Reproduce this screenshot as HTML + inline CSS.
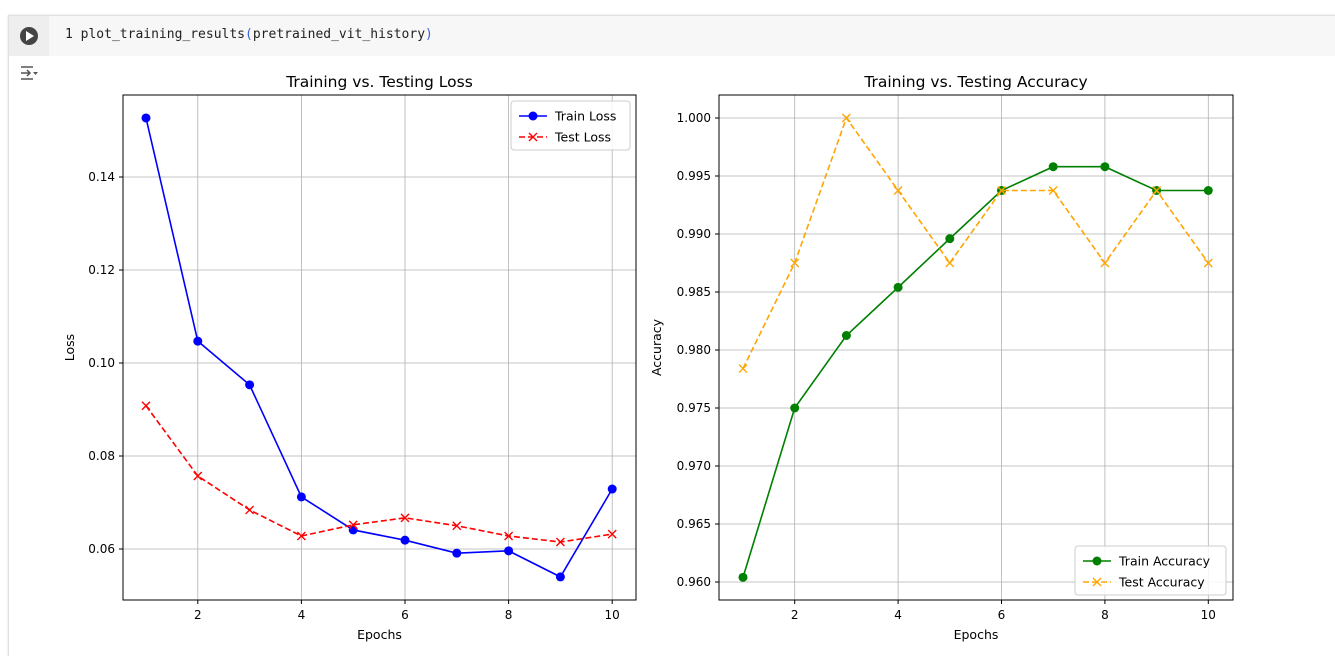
<!DOCTYPE html>
<html><head><meta charset="utf-8"><style>
body{margin:0;background:#fff;width:1335px;height:648px;overflow:hidden;font-family:"DejaVu Sans","Liberation Sans",sans-serif;}
#cell{position:absolute;left:8px;top:15px;width:1340px;height:640px;border-left:1px solid #e0e0e0;border-top:1px solid #e0e0e0;box-shadow:0 0 2px #ddd}
#hdr{position:absolute;left:0;top:0;width:1340px;height:40px;background:#f7f7f7}
#run{position:absolute;left:0;top:0;width:40px;height:40px;background:#eeeeee}
#code{position:absolute;left:56px;top:11px;font-family:"DejaVu Sans Mono","Liberation Mono",monospace;font-size:13px;color:#222}
</style></head><body>
<div id="cell">
<div id="hdr">
<div id="run"><svg width="40" height="40"><circle cx="20" cy="20" r="9" fill="#444"/><path d="M17 15 L25 20 L17 25 Z" fill="#fff"/></svg></div>
<div id="code">1 plot_training_results<span style="color:#3366dd">(</span>pretrained_vit_history<span style="color:#3366dd">)</span></div>
</div>
<svg style="position:absolute;left:10px;top:48px" width="20" height="18"><g stroke="#555" stroke-width="1.5" fill="none"><path d="M2 3h12M2 15h12M2 9h9M8 6l3 3-3 3"/></g><path d="M14 8h5l-2.5 3z" fill="#555"/></svg>
</div>
<svg id="chart" width="1335" height="648" style="position:absolute;left:0;top:0" font-family="DejaVu Sans, Liberation Sans, sans-serif"></svg>
<script>
const epochs=[1,2,3,4,5,6,7,8,9,10];
const trainLoss=[0.1527,0.1047,0.0953,0.0712,0.0641,0.0619,0.0591,0.0596,0.0540,0.0729];
const testLoss=[0.0908,0.0757,0.0684,0.0628,0.0652,0.0667,0.0650,0.0628,0.0615,0.0632];
const trainAcc=[0.9604,0.9750,0.98125,0.9854,0.9896,0.99375,0.9958,0.9958,0.99375,0.99375];
const testAcc=[0.9784,0.9875,1.0,0.99375,0.9875,0.99375,0.99375,0.9875,0.99375,0.9875];
const xTicks=[2,4,6,8,10];
const lossTicks=[0.06,0.08,0.10,0.12,0.14];
const accTicks=[0.960,0.965,0.970,0.975,0.980,0.985,0.990,0.995,1.000];
const svg=document.getElementById('chart');
const NS='http://www.w3.org/2000/svg';
function mk(tag,attrs,parent){const e=document.createElementNS(NS,tag);for(const k in attrs)e.setAttribute(k,attrs[k]);(parent||svg).appendChild(e);return e;}
function txt(s,attrs,parent){const e=mk('text',attrs,parent);e.textContent=s;return e;}
function panel(cfg){
  const g=mk('g',{});
  
  
  const {x0,x1,y0,y1}=cfg;
  const sx=v=>cfg.px1+(v-1)*cfg.pxStep;
  const sy=v=>cfg.ya+(v-cfg.va)*(cfg.yb-cfg.ya)/(cfg.vb-cfg.va);
  xTicks.forEach(t=>{const x=sx(t);
    const l=mk('line',{x1:x,x2:x,y1:y0,y2:y1,stroke:'#b0b0b0','stroke-width':0.8},g);
    
    mk('line',{x1:x,x2:x,y1:y1,y2:y1+4,stroke:'#000'},g);
    const tl=txt(t,{x:x,y:y1+19,'font-size':12,'text-anchor':'middle'},g);
    });
  cfg.yTicks.forEach(t=>{const y=sy(t);
    const l=mk('line',{x1:x0,x2:x1,y1:y,y2:y,stroke:'#b0b0b0','stroke-width':0.8},g);
    
    mk('line',{x1:x0-4,x2:x0,y1:y,y2:y,stroke:'#000'},g);
    const tl=txt(t.toFixed(cfg.dec),{x:x0-8,y:y+4,'font-size':12,'text-anchor':'end'},g);
    });
  cfg.series.forEach(s=>{
    const pts=epochs.map((e,i)=>sx(e)+','+sy(s.data[i])).join(' ');
    const pl=mk('polyline',{points:pts,fill:'none',stroke:s.color,'stroke-width':1.6,'stroke-dasharray':s.dash?'6,3':'none'},g);
    
    epochs.forEach((e,i)=>{const x=sx(e),y=sy(s.data[i]);
      let m;
      if(s.marker==='o'){m=mk('circle',{cx:x,cy:y,r:4.5,fill:s.color},g);}
      else{m=mk('path',{d:`M${x-4} ${y-4}L${x+4} ${y+4}M${x-4} ${y+4}L${x+4} ${y-4}`,stroke:s.color,'stroke-width':1.4},g);}
      });
  });
  const b=mk('rect',{x:x0,y:y0,width:x1-x0,height:y1-y0,fill:'none',stroke:'#000','stroke-width':1},g);
  
  const tt=txt(cfg.title,{x:(x0+x1)/2,y:y0-8,'font-size':15.5,'text-anchor':'middle'},g);
  
  const xl=txt('Epochs',{x:(x0+x1)/2,y:y1+39,'font-size':12.5,'text-anchor':'middle'},g);
  
  const yx=cfg.ylx,yy=(y0+y1)/2;
  const yl=txt(cfg.ylabel,{x:yx,y:yy,'font-size':12.5,'text-anchor':'middle',transform:`rotate(-90 ${yx} ${yy})`},g);
  
  const L=cfg.legend;
  const lg=mk('g',{},g);
  
  mk('rect',{x:L.x,y:L.y,width:L.w,height:49,rx:3,fill:'#fff','fill-opacity':0.85,stroke:'#ccc'},lg);
  cfg.series.forEach((s,i)=>{const y=L.y+15+i*21,x=L.x+8;
    mk('line',{x1:x,x2:x+28,y1:y,y2:y,stroke:s.color,'stroke-width':1.6,'stroke-dasharray':s.dash?'6,3':'none'},lg);
    if(s.marker==='o')mk('circle',{cx:x+14,cy:y,r:4.5,fill:s.color},lg);
    else mk('path',{d:`M${x+10} ${y-4}L${x+18} ${y+4}M${x+10} ${y+4}L${x+18} ${y-4}`,stroke:s.color,'stroke-width':1.4},lg);
    const e=txt(s.label,{x:x+36,y:y+4.5,'font-size':12.5},lg);
    });
}
panel({name:'loss-chart',x0:123,x1:636,y0:95,y1:600,px1:146,pxStep:51.8,ya:549,yb:177,va:0.06,vb:0.14,yTicks:lossTicks,dec:2,
  title:'Training vs. Testing Loss',ylabel:'Loss',ylx:74,legend:{x:511,y:101,w:119},
  series:[{key:'train-loss',label:'Train Loss',data:trainLoss,color:'#0000ff',marker:'o'},
          {key:'test-loss',label:'Test Loss',data:testLoss,color:'#ff0000',marker:'x',dash:true}]});
panel({name:'accuracy-chart',x0:719,x1:1233,y0:95,y1:600,px1:743,pxStep:51.7,ya:582,yb:118,va:0.96,vb:1.0,yTicks:accTicks,dec:3,
  title:'Training vs. Testing Accuracy',ylabel:'Accuracy',ylx:661,legend:{x:1075,y:546,w:151},
  series:[{key:'train-accuracy',label:'Train Accuracy',data:trainAcc,color:'#008000',marker:'o'},
          {key:'test-accuracy',label:'Test Accuracy',data:testAcc,color:'#ffa500',marker:'x',dash:true}]});
</script>
</body></html>
